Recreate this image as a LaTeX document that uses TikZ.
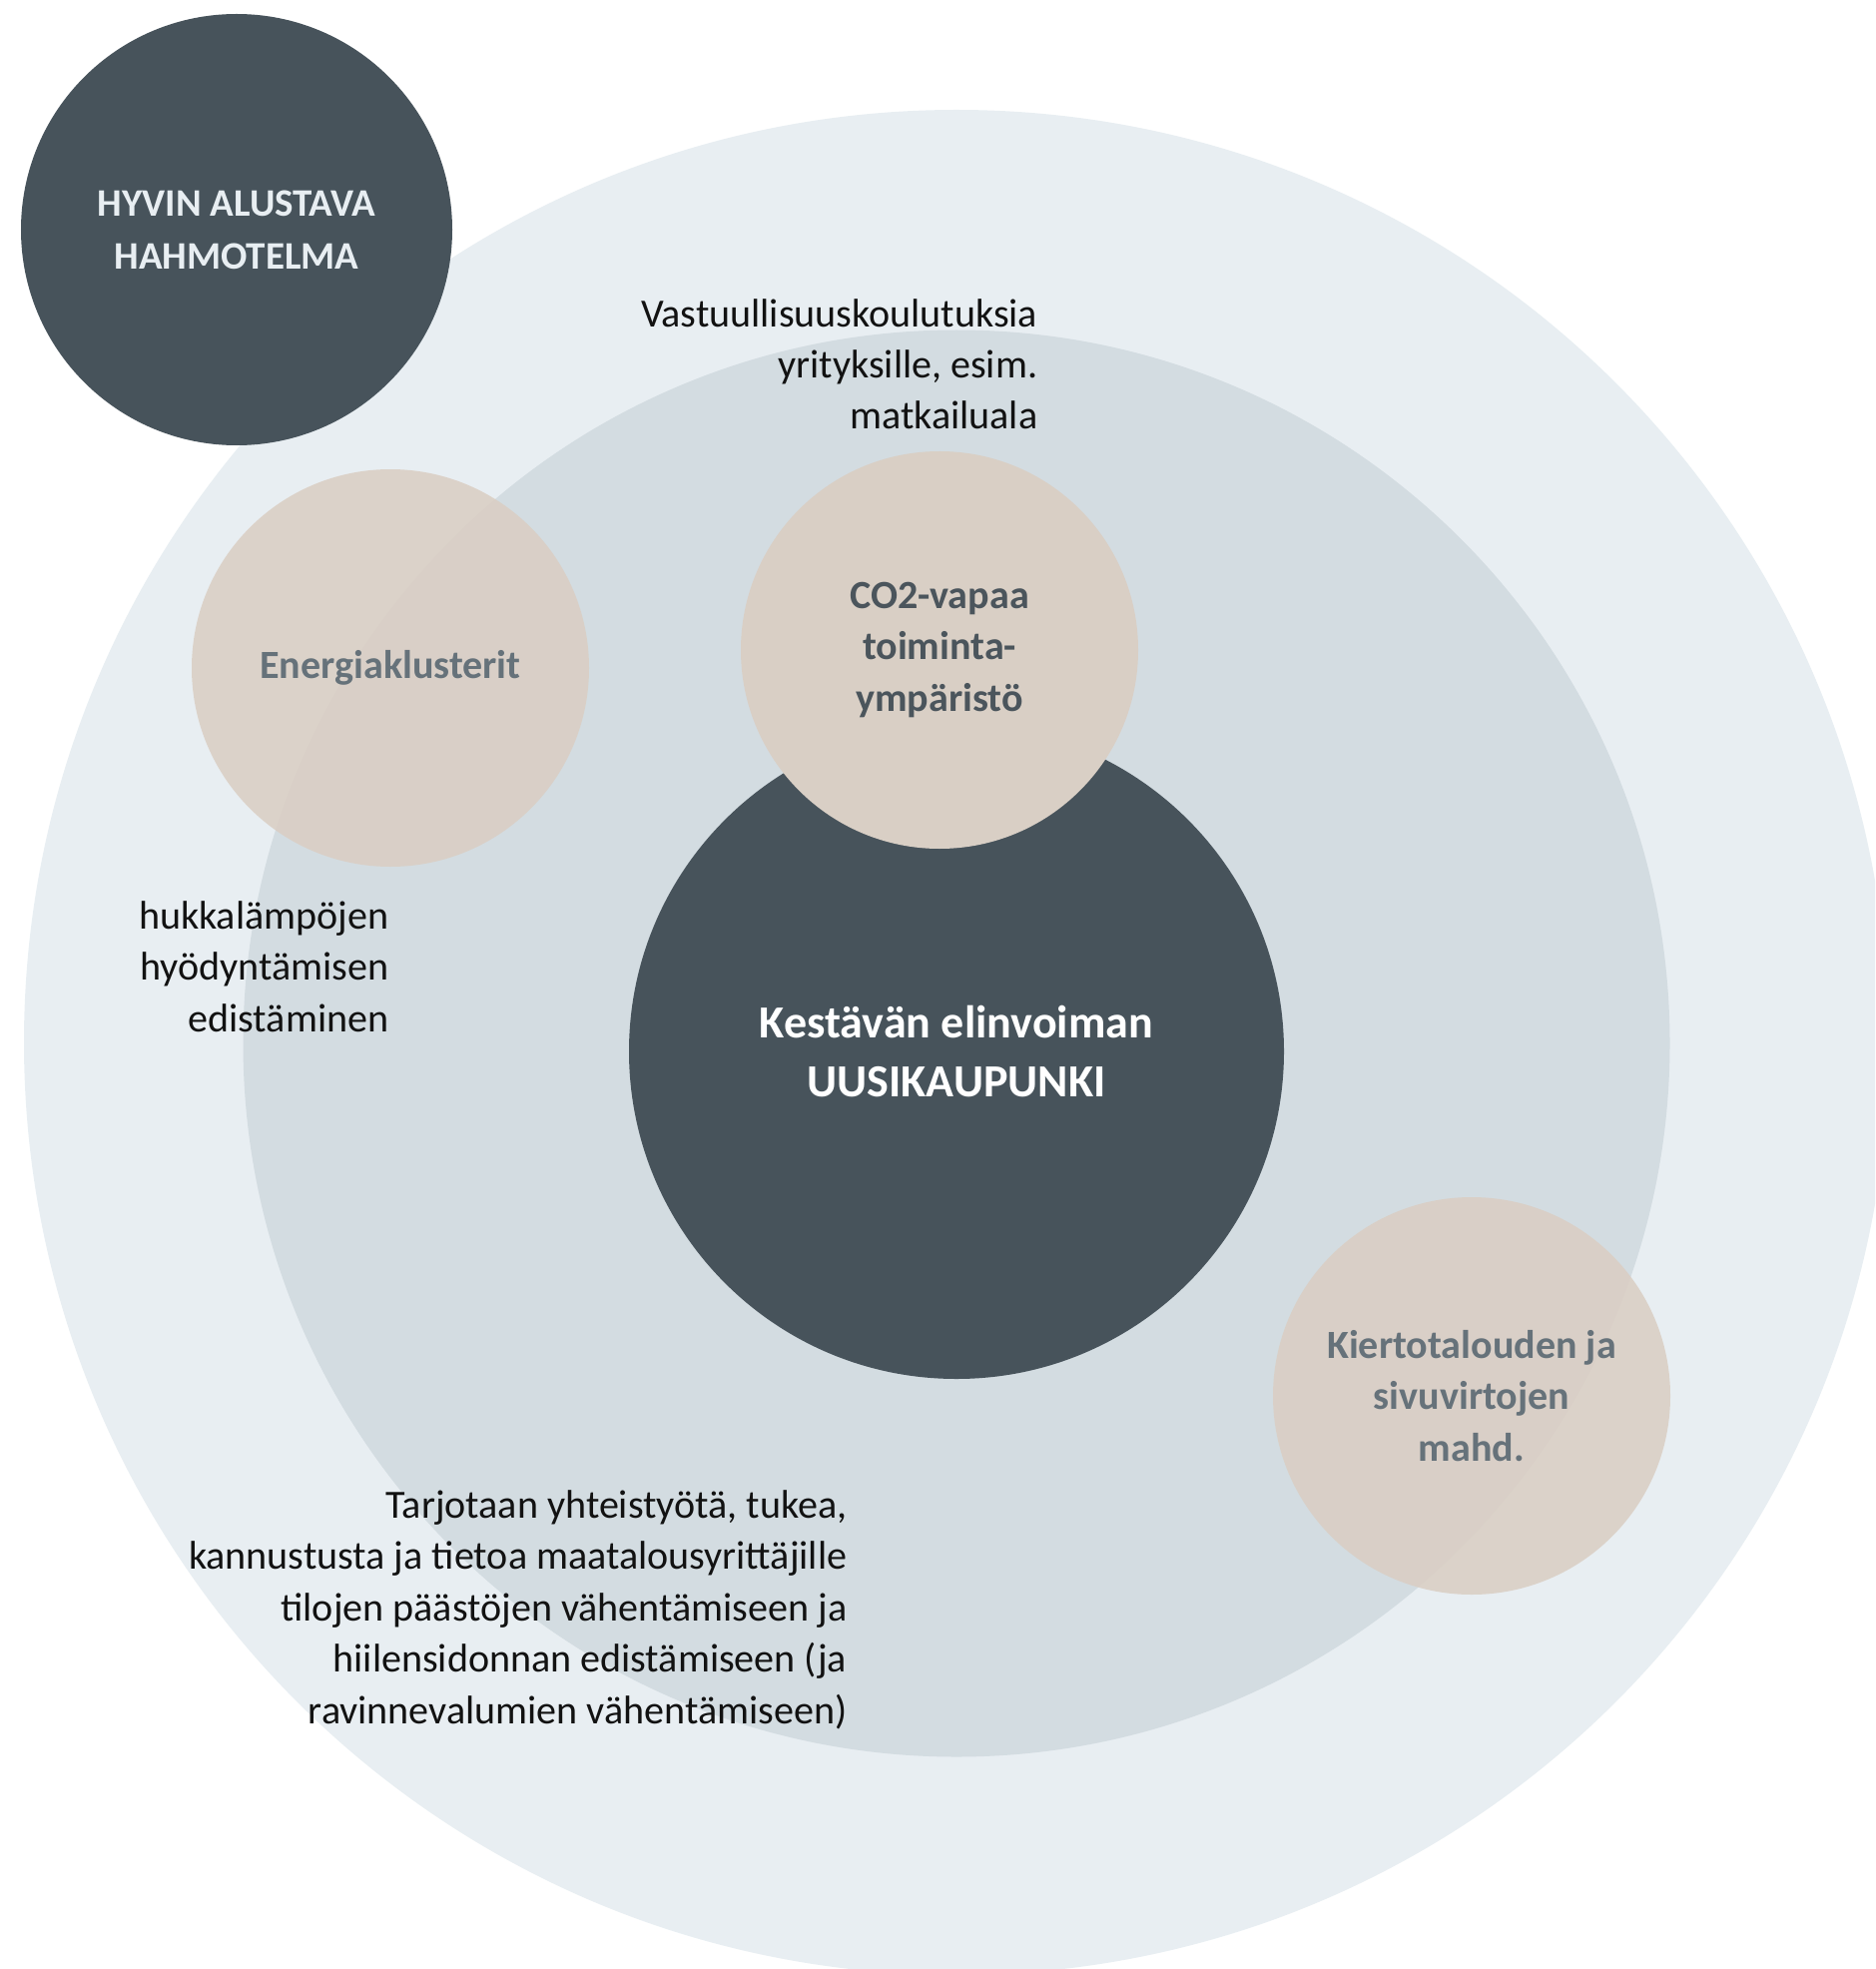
\documentclass[tikz,border=0pt]{standalone}
\usepackage{fontspec}
\setmainfont{Carlito}
\usepackage{tikz}
\usetikzlibrary{positioning}
\definecolor{slate}{HTML}{47535B}
\definecolor{mist}{HTML}{E8EEF2}
\definecolor{haze}{HTML}{D3DCE1}
\definecolor{sand}{HTML}{DACEC3}
\definecolor{sandtext}{HTML}{66727A}
\definecolor{slatetext}{HTML}{4B555C}
\tikzstyle{disc}=[circle, inner sep=0pt, outer sep=0pt, align=center]
\tikzstyle{bubble}=[disc, fill=sand, minimum size=3.98cm, font=\bfseries\fontsize{11.4}{14.65}\selectfont]
\tikzstyle{note}=[align=right, anchor=base east, inner sep=0pt, text=black!93, font=\fontsize{11.4}{14.65}\selectfont]

\begin{document}
\begin{tikzpicture}[x=1cm, y=-1cm]
  \clip (0,0) rectangle (18.78,19.72);

  % rings
  \node (outer) [disc, fill=mist, minimum size=18.68cm] at (9.58,10.44) {};
  \node (middle) [disc, fill=haze, minimum size=14.29cm] at (9.58,10.45) {};

  \node (draft) [disc, fill=slate, minimum size=4.32cm, text=mist,
    font=\bfseries\fontsize{11.1}{15}\selectfont] at (2.37,2.30) {HYVIN ALUSTAVA\\HAHMOTELMA};

  \node (energy) [bubble, fill opacity=0.86, text opacity=1, text=sandtext] at (3.91,6.69) {Energiaklusterit};

  \node (core) [disc, fill=slate, minimum size=6.56cm, text=white,
    font=\bfseries\fontsize{13.1}{16.7}\selectfont] at (9.58,10.53) {Kestävän elinvoiman\\UUSIKAUPUNKI};

  \node (co2) [bubble, fill=sand!92!haze, text=slatetext] at (9.41,6.51) {CO2-vapaa\\toiminta-\\ympäristö};
  \node (cycle) [bubble, fill opacity=0.86, text opacity=1, text=sandtext] at (14.74,13.98) {Kiertotalouden ja\\sivuvirtojen\\mahd.};

  % notes (anchored at the last line)
  \node (training) [note] at (10.40,4.30) {Vastuullisuuskoulutuksia\\yrityksille, esim.\\matkailuala};
  \node (heat) [note] at (3.90,10.33) {hukkalämpöjen\\hyödyntämisen\\edistäminen};
  \node (farms) [note] at (8.49,17.26) {Tarjotaan yhteistyötä, tukea,\\kannustusta ja tietoa maatalousyrittäjille\\tilojen päästöjen vähentämiseen ja\\hiilensidonnan edistämiseen (ja\\ravinnevalumien vähentämiseen)};
\end{tikzpicture}
\end{document}
